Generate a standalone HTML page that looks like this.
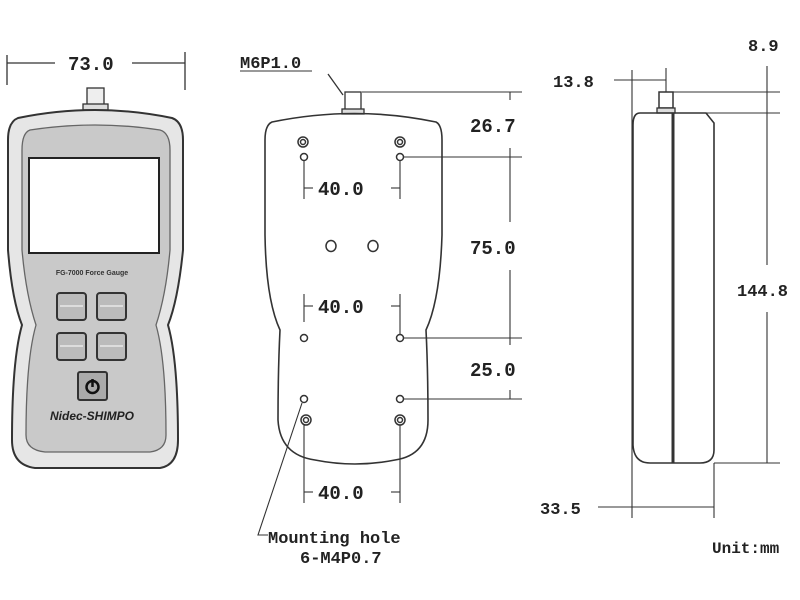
<!DOCTYPE html>
<html><head><meta charset="utf-8"><style>
html,body{margin:0;padding:0;background:#fff;width:800px;height:600px;overflow:hidden}
svg{display:block}
.t{font-family:"Liberation Mono",monospace;font-weight:bold;font-size:19px;fill:#222}
</style></head><body>
<svg width="800" height="600" viewBox="0 0 800 600" xmlns="http://www.w3.org/2000/svg">
<g stroke="#333" fill="none" stroke-width="1.3">
<!-- FRONT VIEW -->
<line x1="7" y1="55" x2="7" y2="85"/><line x1="185" y1="52" x2="185" y2="90"/>
<line x1="7" y1="63" x2="55" y2="63"/><line x1="132" y1="63" x2="185" y2="63"/>
<rect x="87" y="88" width="17" height="17" fill="#eee"/>
<rect x="83" y="104" width="25" height="6" fill="#ddd"/>
<path d="M18 118 Q95 102 172 118 Q183 122 183 140 L183 250 Q178 300 168 325 Q178 360 178 440 Q178 465 160 468 L35 468 Q12 465 12 440 Q12 360 22 325 Q12 300 8 250 L8 140 Q8 122 18 118 Z" fill="#e6e6e6" stroke-width="2"/>
<path d="M30 130 Q95 120 160 130 Q170 133 170 150 L170 250 Q166 295 156 325 Q166 360 166 435 Q166 450 150 452 L45 452 Q26 450 26 435 Q26 360 36 325 Q26 295 22 250 L22 150 Q22 133 30 130 Z" fill="#c9c9c9" stroke="#666"/>
<rect x="29" y="158" width="130" height="95" fill="#fff" stroke="#222" stroke-width="2"/>
<g fill="#bbb" stroke="#333" stroke-width="2">
<rect x="57" y="293" width="29" height="27" rx="3"/><rect x="97" y="293" width="29" height="27" rx="3"/>
<rect x="57" y="333" width="29" height="27" rx="3"/><rect x="97" y="333" width="29" height="27" rx="3"/>
<rect x="78" y="372" width="29" height="28" rx="2" fill="#aaa"/>
</g>
<g stroke="#fff" stroke-width="1"><line x1="60" y1="306" x2="83" y2="306"/><line x1="100" y1="306" x2="123" y2="306"/><line x1="60" y1="346" x2="83" y2="346"/><line x1="100" y1="346" x2="123" y2="346"/></g>
<circle cx="92.5" cy="387" r="6" stroke="#111" stroke-width="2.5"/><line x1="92.5" y1="379" x2="92.5" y2="387" stroke="#111" stroke-width="2.5"/>

<!-- BACK VIEW -->
<line x1="328" y1="74" x2="343" y2="95"/>
<rect x="345" y="92" width="16" height="18" fill="#fff"/>
<rect x="342" y="109" width="22" height="5" fill="#ddd"/>
<path d="M272 122 Q355 105 436 122 Q442 125 442 140 L442 235 Q440 300 426 330 Q428 370 428 420 Q428 455 395 460 Q355 468 315 460 Q280 455 278 420 Q278 370 280 330 Q266 300 265 235 L265 140 Q265 125 272 122 Z" stroke-width="1.6"/>
<g stroke-width="1.5">
<circle cx="303" cy="142" r="5"/><circle cx="303" cy="142" r="2.5"/>
<circle cx="400" cy="142" r="5"/><circle cx="400" cy="142" r="2.5"/>
<circle cx="306" cy="420" r="5"/><circle cx="306" cy="420" r="2.5"/>
<circle cx="400" cy="420" r="5"/><circle cx="400" cy="420" r="2.5"/>
<circle cx="304" cy="157" r="3.5"/><circle cx="400" cy="157" r="3.5"/>
<ellipse cx="331" cy="246" rx="5" ry="5.5"/><ellipse cx="373" cy="246" rx="5" ry="5.5"/>
<circle cx="304" cy="338" r="3.5"/><circle cx="400" cy="338" r="3.5"/>
<circle cx="304" cy="399" r="3.5"/><circle cx="400" cy="399" r="3.5"/>
</g>
<g stroke-width="1.1">
<line x1="304" y1="161" x2="304" y2="199"/><line x1="400" y1="161" x2="400" y2="199"/>
<line x1="304" y1="188" x2="313" y2="188"/><line x1="391" y1="188" x2="400" y2="188"/>
<line x1="304" y1="294" x2="304" y2="322"/><line x1="400" y1="294" x2="400" y2="334"/>
<line x1="304" y1="306" x2="313" y2="306"/><line x1="391" y1="306" x2="400" y2="306"/>
<line x1="304" y1="425" x2="304" y2="503"/><line x1="400" y1="425" x2="400" y2="503"/>
<line x1="304" y1="492" x2="313" y2="492"/><line x1="391" y1="492" x2="400" y2="492"/>
<line x1="362" y1="92" x2="522" y2="92"/><line x1="404" y1="157" x2="522" y2="157"/>
<line x1="404" y1="338" x2="522" y2="338"/><line x1="404" y1="399" x2="522" y2="399"/>
<line x1="510" y1="92" x2="510" y2="100"/><line x1="510" y1="148" x2="510" y2="222"/>
<line x1="510" y1="270" x2="510" y2="345"/><line x1="510" y1="390" x2="510" y2="399"/>
<polyline points="302,403 258,535 268,535"/>
<line x1="240" y1="71" x2="312" y2="71"/>
</g>

<!-- SIDE VIEW -->
<g stroke-width="1.1">
<line x1="632" y1="70" x2="632" y2="518"/><line x1="714" y1="463" x2="714" y2="518"/>
<line x1="598" y1="507" x2="714" y2="507"/>
<line x1="614" y1="80" x2="666" y2="80"/><line x1="666" y1="68" x2="666" y2="92"/>
<line x1="673" y1="92" x2="780" y2="92"/><line x1="700" y1="113" x2="780" y2="113"/>
<line x1="714" y1="463" x2="780" y2="463"/>
<line x1="767" y1="66" x2="767" y2="265"/><line x1="767" y1="312" x2="767" y2="463"/>
</g>
<rect x="659" y="92" width="14" height="16" fill="#fff" stroke-width="1.5"/>
<rect x="657" y="108" width="18" height="5" fill="#ddd"/>
<path d="M640 113 L706 113 L714 123 L714 450 Q714 463 700 463 L650 463 Q634 463 633 445 L633 125 Q633 113 640 113 Z" stroke-width="1.6"/>
<line x1="673" y1="113" x2="673" y2="463" stroke-width="3"/>
</g>
<g class="t">
<text x="68" y="70">73.0</text>
<text x="240" y="68" font-size="17">M6P1.0</text>
<text x="318" y="195">40.0</text>
<text x="318" y="313">40.0</text>
<text x="318" y="499">40.0</text>
<text x="470" y="132">26.7</text>
<text x="470" y="254">75.0</text>
<text x="470" y="376">25.0</text>
<text x="268" y="543" font-size="17">Mounting hole</text>
<text x="300" y="563" font-size="17">6-M4P0.7</text>
<text x="748" y="51" font-size="17">8.9</text>
<text x="553" y="87" font-size="17">13.8</text>
<text x="737" y="296" font-size="17">144.8</text>
<text x="540" y="514" font-size="17">33.5</text>
<text x="712" y="553" font-size="16">Unit:mm</text>
</g>
<text x="92" y="275" font-family="Liberation Sans,sans-serif" font-weight="bold" font-size="7" fill="#333" text-anchor="middle">FG-7000 Force Gauge</text>
<text x="92" y="420" font-family="Liberation Sans,sans-serif" font-weight="bold" font-style="italic" font-size="12" fill="#222" text-anchor="middle">Nidec-SHIMPO</text>
</svg>
</body></html>
